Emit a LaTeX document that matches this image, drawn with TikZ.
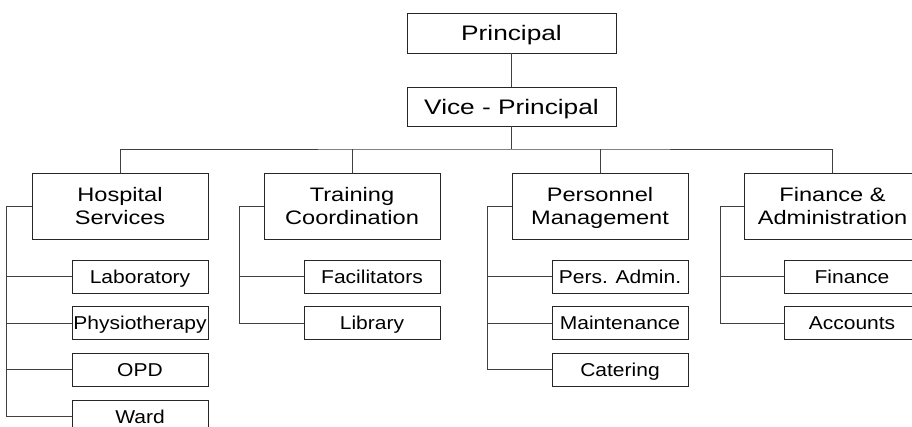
\documentclass[tikz,border=0pt]{standalone}
\usepackage{fontspec}
\setmainfont{Liberation Sans}
\newfontfamily\topfont{Liberation Sans}[FakeStretch=1.25]
\newfontfamily\deptfont{Liberation Sans}[FakeStretch=1.21]
\newfontfamily\subfont{Liberation Sans}[FakeStretch=1.13]
\usetikzlibrary{positioning}

\tikzset{
	topbox/.style={draw=black!85, line width=0.9pt, inner sep=0pt,
		minimum width=209pt, minimum height=40pt,
		font=\topfont\fontsize{21}{25}\selectfont, text height=15pt, text depth=0pt},
	deptbox/.style={draw=black!85, line width=0.9pt, inner sep=0pt, align=center,
		minimum width=176pt, minimum height=66pt, text depth=0pt,
		font=\deptfont\fontsize{19.5}{23}\selectfont},
	subbox/.style={draw=black!85, line width=0.9pt, inner sep=0pt,
		minimum width=136pt, minimum height=33pt,
		font=\subfont\fontsize{18.6}{22}\selectfont, text height=13.3pt, text depth=0pt},
	link/.style={draw=black!75, line width=0.9pt}
}

\begin{document}
\begin{tikzpicture}[x=1pt,y=-1pt]
	\useasboundingbox (0,0) rectangle (912,426);
	\clip (0,0) rectangle (912,426);
	%
	%  TOP
	%
	\node[topbox] (prin) at (511.5,33) {Principal};
	\node[topbox,minimum height=39pt] (vice) at (511.5,106.5) {Vice - Principal};
	\coordinate (bus) at (511.5,149);
	%
	%  DEPARTMENTS
	%
	\node[deptbox] (hosp) at (120,206) {Hospital\\Services};
	\node[deptbox] (train) at (352,206) {Training\\Coordination};
	\node[deptbox] (pers) at (600,206) {Personnel\\Management};
	\node[deptbox] (fin) at (832.5,206) {Finance \&\\Administration};
	%
	%  UNITS
	%
	\node[subbox] (lab) at (140,276.5) {Laboratory};
	\node[subbox] (physio) at (140,323) {Physiotherapy};
	\node[subbox] (opd) at (140,369.5) {OPD};
	\node[subbox] (ward) at (140,416.5) {Ward};
	\node[subbox] (facil) at (372,276.5) {Facilitators};
	\node[subbox] (lib) at (372,323) {Library};
	\node[subbox] (padmin) at (620,276.5) {Pers. Admin.};
	\node[subbox] (maint) at (620,323) {Maintenance};
	\node[subbox] (cater) at (620,369.5) {Catering};
	\node[subbox] (finan) at (852,276.5) {Finance};
	\node[subbox] (acc) at (852,323) {Accounts};
	%
	%  LINKS
	%
	\draw[link] (prin) -- (vice);
	\draw[link] (vice) -- (bus);
	\draw[link] (hosp.north) |- (bus) -| (fin.north);
	\draw[link] (train.north) -- (train.north |- bus);
	\draw[link] (pers.north) -- (pers.north |- bus);
	\foreach \u in {lab,physio,opd,ward}
		\draw[link] (hosp.west) -- ++(-25,0) |- (\u.west);
	\foreach \u in {facil,lib}
		\draw[link] (train.west) -- ++(-24,0) |- (\u.west);
	\foreach \u in {padmin,maint,cater}
		\draw[link] (pers.west) -- ++(-24,0) |- (\u.west);
	\foreach \u in {finan,acc}
		\draw[link] (fin.west) -- ++(-24,0) |- (\u.west);
\end{tikzpicture}
\end{document}
